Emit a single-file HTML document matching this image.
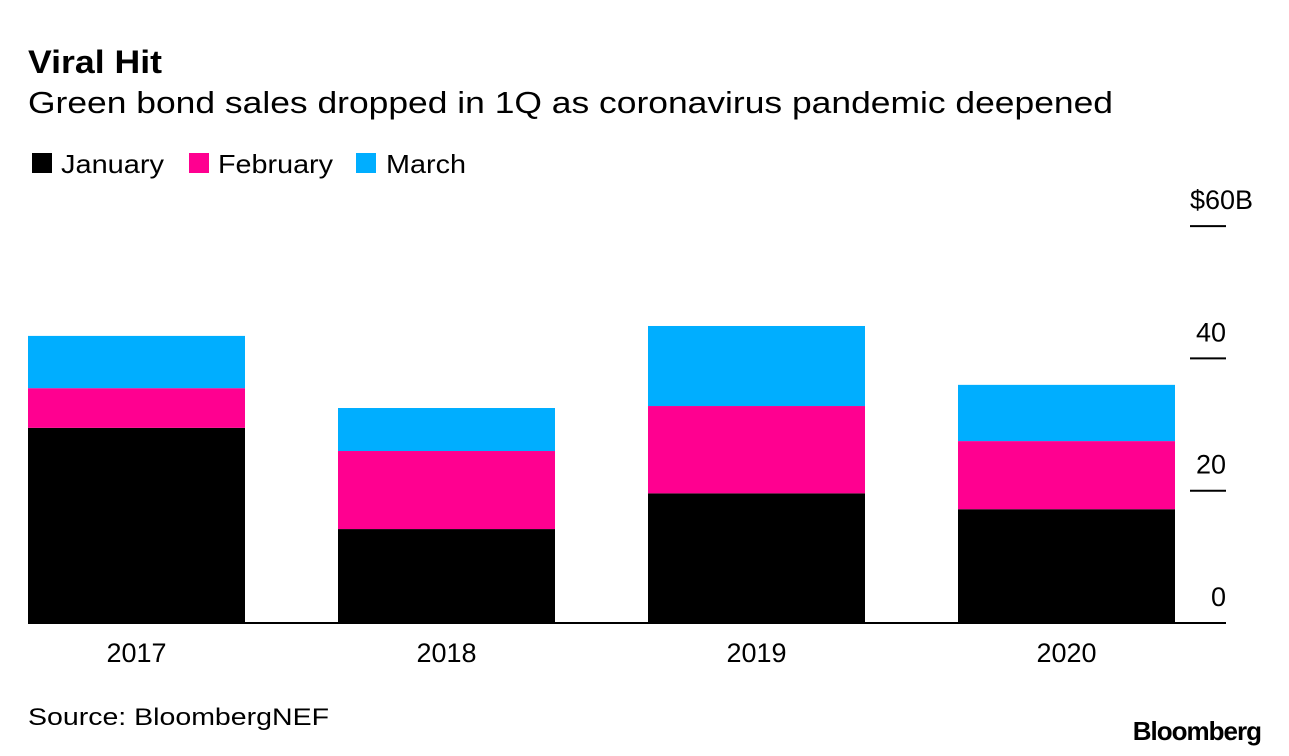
<!DOCTYPE html>
<html><head><meta charset="utf-8"><style>
body{margin:0;background:#fff;font-family:"Liberation Sans",sans-serif;}
svg{display:block}
</style></head><body>
<svg width="1289" height="756" xmlns="http://www.w3.org/2000/svg" font-family="Liberation Sans, sans-serif">
<text x="28" y="73" font-size="32" font-weight="bold" fill="#000" textLength="134" lengthAdjust="spacingAndGlyphs">Viral Hit</text>
<text x="28" y="113" font-size="31" fill="#000" textLength="1085" lengthAdjust="spacingAndGlyphs">Green bond sales dropped in 1Q as coronavirus pandemic deepened</text>
<g>
<rect x="32" y="153" width="20" height="20" fill="#000"/>
<text x="61" y="173" font-size="26" textLength="103" lengthAdjust="spacingAndGlyphs">January</text>
<rect x="189" y="153" width="20" height="20" fill="#ff0090"/>
<text x="218" y="173" font-size="26" textLength="115" lengthAdjust="spacingAndGlyphs">February</text>
<rect x="356" y="153" width="20" height="20" fill="#00aeff"/>
<text x="386" y="173" font-size="26" textLength="80" lengthAdjust="spacingAndGlyphs">March</text>
</g>
<g id="plot"></g>
<text x="28" y="725" font-size="24" textLength="301" lengthAdjust="spacingAndGlyphs">Source: BloombergNEF</text>
<text x="1261" y="740" font-size="26" font-weight="bold" text-anchor="end" letter-spacing="-1">Bloomberg</text>
</svg>
<script>
const categories=["2017","2018","2019","2020"];
const january=[29.5,14.2,19.6,17.2];
const february=[6.0,11.8,13.2,10.3];
const march=[7.9,6.5,12.1,8.5];
const tickValues=[0,20,40,60];
const tickLabels=["0","20","40","$60B"];
const NS="http://www.w3.org/2000/svg";
const g=document.getElementById('plot');
const y0=623,pxPer=132.3/20;
function y(v){return y0-v*pxPer;}
function x(i){return 28+i*310;}
const bw=217;
function mk(t,a){const e=document.createElementNS(NS,t);for(const k in a)e.setAttribute(k,a[k]);g.appendChild(e);return e;}
const series=[[january,"#000","january"],[february,"#ff0090","february"],[march,"#00aeff","march"]];
categories.forEach((c,i)=>{
  let base=0;
  series.forEach(s=>{
    const v=s[0][i];
    const r=mk('rect',{x:x(i),y:y(base+v),width:bw,height:v*pxPer,fill:s[1]});
    
    
    base+=v;
  });
  const t=mk('text',{x:x(i)+bw/2,y:662,'font-size':27,'text-anchor':'middle'});
  t.textContent=c;
  
  
});
tickValues.forEach((v,i)=>{
  if(v>0){
    const l=mk('line',{x1:1190,x2:1226,y1:y(v),y2:y(v),stroke:'#000','stroke-width':2});
    
    
  }
  const isTop=(i===tickValues.length-1);
  const t=mk('text',{x:isTop?1253:1226,y:y(v)-17,'font-size':27,'text-anchor':'end'});
  t.textContent=tickLabels[i];
  
  
});
const base=mk('line',{x1:28,x2:1226,y1:y0,y2:y0,stroke:'#000','stroke-width':2});


</script>
</body></html>
